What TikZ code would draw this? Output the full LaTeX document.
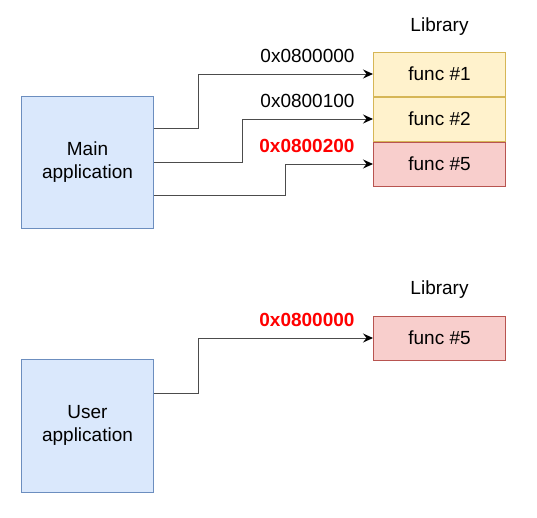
\documentclass[tikz,border=0pt]{standalone}
\usepackage{fontspec}
\setmainfont{Liberation Sans}
\usetikzlibrary{arrows.meta}
\definecolor{appfill}{HTML}{DAE8FC}
\definecolor{appline}{HTML}{6C8EBF}
\definecolor{okfill}{HTML}{FFF2CC}
\definecolor{okline}{HTML}{D6B656}
\definecolor{newfill}{HTML}{F8CECC}
\definecolor{newline}{HTML}{B85450}
\definecolor{addrred}{HTML}{FF0000}
\begin{document}
\begin{tikzpicture}[x=1pt, y=-1pt, line width=1pt,
  font=\fontsize{19}{22.5}\selectfont,
  appbox/.style={draw=appline, fill=appfill, minimum width=132pt, minimum height=132pt, inner sep=0pt, align=center},
  funcbox/.style={minimum width=132pt, minimum height=44pt, inner sep=0pt},
  oldfunc/.style={funcbox, draw=okline, fill=okfill},
  newfunc/.style={funcbox, draw=newline, fill=newfill},
  addr/.style={anchor=base east, inner sep=0pt},
  newaddr/.style={addr, text=addrred, font=\fontsize{19}{22.5}\selectfont\bfseries},
  link/.style={draw=black!70, -{Stealth[length=10pt, width=9pt, inset=3.5pt, black]}}]
\useasboundingbox (0,0) rectangle (537,517);
% first case
\node[appbox] (main) at (87.5,162) {Main\\application};
\node[oldfunc] (func1) at (439.5,74) {func \#1};
\node[oldfunc, anchor=north] (func2) at (func1.south) {func \#2};
\node[newfunc, anchor=north] (func5) at (func2.south) {func \#5};
\node[anchor=base] (lib) at ([yshift=20.5pt]func1.north) {Library};
\foreach \dy/\dx/\f in {34/44/func1, 0/88/func2, -33/131.5/func5}
\draw[link] ([yshift=\dy pt]main.east) -- ++(\dx,0) |- (\f.west);
\node[addr] (addr1) at ([shift={(-18pt,11.5pt)}]func1.west) {0x0800000};
\node[addr] (addr2) at ([shift={(-18pt,11.5pt)}]func2.west) {0x0800100};
\node[newaddr] (addr5) at ([shift={(-18pt,11.5pt)}]func5.west) {0x0800200};
% second case
\node[appbox, minimum height=133pt] (user) at (87.5,425.5) {User\\application};
\node[newfunc] (ufunc5) at (439.5,338) {func \#5};
\node[anchor=base] (ulib) at ([yshift=21pt]ufunc5.north) {Library};
\draw[link] ([yshift=32.5pt]user.east) -- ++(44,0) |- (ufunc5.west);
\node[newaddr] (uaddr5) at ([shift={(-18pt,11.5pt)}]ufunc5.west) {0x0800000};
\end{tikzpicture}
\end{document}
